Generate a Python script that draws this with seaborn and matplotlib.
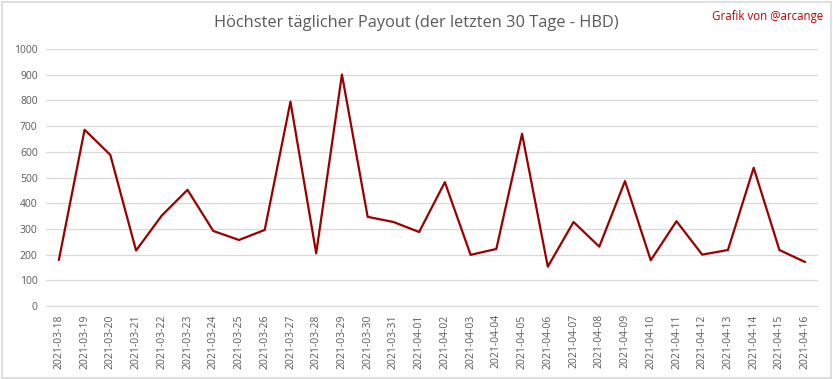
import pandas as pd
import matplotlib.pyplot as plt
import seaborn as sns
from matplotlib.patches import Rectangle

# =========================
# 1. DATA
# =========================
dates = [
    "2021-03-18", "2021-03-19", "2021-03-20", "2021-03-21", "2021-03-22",
    "2021-03-23", "2021-03-24", "2021-03-25", "2021-03-26", "2021-03-27",
    "2021-03-28", "2021-03-29", "2021-03-30", "2021-03-31", "2021-04-01",
    "2021-04-02", "2021-04-03", "2021-04-04", "2021-04-05", "2021-04-06",
    "2021-04-07", "2021-04-08", "2021-04-09", "2021-04-10", "2021-04-11",
    "2021-04-12", "2021-04-13", "2021-04-14", "2021-04-15", "2021-04-16",
]
payout = [
    179, 686, 588, 216, 352, 452, 292, 257, 296, 795,
    205, 901, 347, 327, 288, 482, 199, 222, 670, 153,
    327, 231, 486, 178, 330, 200, 218, 538, 218, 171,
]
y_ticks = [0, 100, 200, 300, 400, 500, 600, 700, 800, 900, 1000]

df = pd.DataFrame({"datum": dates, "payout": payout})

# =========================
# 2. PLOT
# =========================
sns.set_style("white")
plt.rcParams['font.family'] = ['Open Sans', 'DejaVu Sans']

fig = plt.figure(figsize=(8.33, 3.79), dpi=100)
ax = fig.add_axes([0.0552, 0.1926, 0.9268, 0.678])

sns.lineplot(data=df, x="datum", y="payout", sort=False, ax=ax,
             color="#990000", linewidth=1.6)

ax.set_xlim(-0.5, len(dates) - 0.5)
ax.set_ylim(0, 1000)
ax.set_yticks(y_ticks)
ax.set_xticks(range(len(dates)))
ax.set_xticklabels(dates, rotation=90)
ax.tick_params(axis="both", labelsize=7.5, colors="#595959", length=0, pad=6)
ax.set_xlabel("")
ax.set_ylabel("")

ax.grid(axis="y", color="#D9D9D9", linewidth=0.9)
ax.set_axisbelow(True)
for side in ["top", "right", "left"]:
    ax.spines[side].set_visible(False)
ax.spines["bottom"].set_color("#D9D9D9")

fig.text(0.5, 0.94, "Höchster täglicher Payout (der letzten 30 Tage - HBD)",
         ha="center", va="center", fontsize=11.8, color="#595959")
fig.text(0.988, 0.957, "Grafik von @arcange", ha="right", va="center",
         fontsize=8.3, color="#C00000")

# grey frame round the chart
fig.patches.append(Rectangle((0.002, 0.003), 0.995, 0.993, transform=fig.transFigure,
                             fill=False, edgecolor="#D9D9D9", linewidth=1.2))

fig.savefig("out.png", dpi=100, facecolor="white")
